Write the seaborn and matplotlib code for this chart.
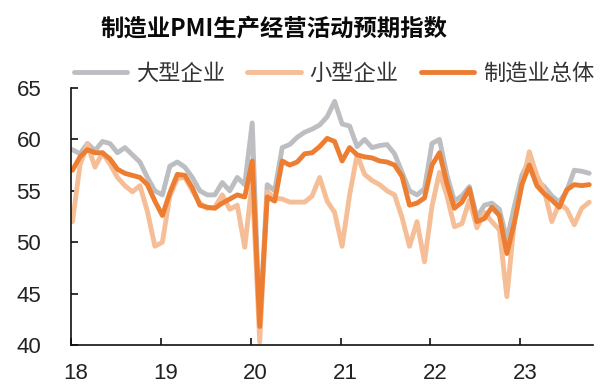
import numpy as np
import pandas as pd
import matplotlib
matplotlib.use("Agg")
import matplotlib.pyplot as plt
import seaborn as sns

# Monthly PMI production & business-activity expectation index, 2018-01 .. 2023-10
months = pd.period_range("2018-01", "2023-10", freq="M").astype(str).tolist()

large = [59.0, 58.6, 59.6, 58.9, 59.8, 59.6, 58.7, 59.2, 58.5, 57.8, 56.3, 55.0,
         54.6, 57.4, 57.8, 57.3, 56.3, 55.0, 54.6, 54.6, 55.8, 55.0, 56.3, 55.6,
         61.6, 41.5, 55.6, 55.0, 59.2, 59.5, 60.2, 60.7, 61.0, 61.4, 62.2, 63.7,
         61.5, 61.3, 59.3, 60.0, 59.2, 59.4, 59.5, 58.6, 56.8, 55.0, 54.6, 55.2,
         59.6, 60.0, 56.5, 54.0, 54.5, 55.4, 52.4, 53.6, 53.8, 53.2, 50.2, 53.5,
         56.5, 58.0, 56.0, 55.4, 54.5, 53.9, 55.0, 57.0, 56.9, 56.7]

small = [52.0, 57.5, 59.5, 57.3, 58.7, 57.6, 56.3, 55.5, 54.9, 55.5, 53.0, 49.6,
         50.0, 54.5, 56.2, 56.3, 55.0, 53.8, 53.3, 53.4, 54.6, 53.2, 53.6, 49.5,
         55.9, 40.3, 54.9, 54.3, 54.2, 53.9, 53.9, 53.9, 54.5, 56.3, 54.0, 52.9,
         49.6, 54.6, 58.5, 56.6, 56.0, 55.6, 55.0, 54.6, 52.4, 49.6, 52.0, 48.1,
         53.5, 56.8, 54.5, 51.5, 51.8, 54.1, 51.4, 52.9, 52.0, 51.2, 44.7, 52.0,
         55.5, 58.8, 56.5, 55.0, 52.0, 53.8, 53.2, 51.7, 53.3, 53.9]

total = [57.0, 58.3, 59.0, 58.7, 58.7, 58.1, 57.1, 56.7, 56.5, 56.3, 55.6, 54.0,
         52.6, 54.8, 56.6, 56.5, 55.3, 53.6, 53.4, 53.3, 53.8, 54.2, 54.6, 54.4,
         57.9, 41.8, 54.4, 54.0, 57.9, 57.5, 57.8, 58.6, 58.7, 59.3, 60.1, 59.8,
         57.9, 59.2, 58.5, 58.3, 58.2, 57.9, 57.8, 57.5, 56.4, 53.6, 53.8, 54.3,
         57.5, 58.7, 55.7, 53.3, 53.9, 55.2, 52.0, 52.3, 53.4, 52.6, 48.9, 51.9,
         55.6, 57.5, 55.5, 54.7, 54.1, 53.4, 55.1, 55.6, 55.5, 55.6]

series_names = ["大型企业", "小型企业", "制造业总体"]
series_colors = ["#BDBEC2", "#F6BE97", "#ED7D31"]
year_labels = ["18", "19", "20", "21", "22", "23"]
y_ticks = [40, 45, 50, 55, 60, 65]
title = "制造业PMI生产经营活动预期指数"

idx = np.arange(len(months))
df = pd.concat([
    pd.DataFrame({"idx": idx, "value": vals, "series": name})
    for name, vals in zip(series_names, [large, small, total])
], ignore_index=True)

sns.set_style("ticks")
plt.rcParams["font.family"] = ["Noto Sans CJK SC", "DejaVu Sans"]

fig = plt.figure(figsize=(6.02, 3.85), dpi=100)
ax = fig.add_axes([71 / 602, 1 - 345 / 385, 522 / 602, (345 - 88) / 385])

sns.lineplot(data=df, x="idx", y="value", hue="series", hue_order=series_names,
             palette=series_colors, linewidth=3.5, ax=ax, legend=False)

ax.set_xlim(-0.1, 69.5)
ax.set_ylim(40, 65)
ax.set_xlabel("")
ax.set_ylabel("")

for s in ["top", "right"]:
    ax.spines[s].set_visible(False)
for s in ["left", "bottom"]:
    ax.spines[s].set_color("#111111")
    ax.spines[s].set_linewidth(1.2)

# year boundaries carry tick marks, labels sit just after them
year_starts = [12 * k - 0.2 for k in range(len(year_labels))]
label_pos = [12 * k + 0.45 for k in range(len(year_labels))]
ax.set_xticks(year_starts)
ax.set_xticklabels([])
ax.set_xticks(label_pos, minor=True)
ax.set_xticklabels(year_labels, minor=True)
ax.tick_params(axis="x", which="major", direction="in", length=5, width=1.2, color="#111111")
ax.tick_params(axis="x", which="minor", length=0, pad=13, labelsize=16, labelcolor="#222222")

ax.set_yticks(y_ticks)
ax.set_yticklabels([str(v) for v in y_ticks])
ax.tick_params(axis="y", direction="in", length=5, width=1.2, color="#111111",
               pad=21.5, labelsize=16, labelcolor="#222222")

for lab in ax.get_xticklabels(minor=True) + ax.get_yticklabels():
    lab.set_fontfamily("Liberation Sans")

handles = ax.get_lines()[:3]
leg = fig.legend(handles, series_names, loc="center", ncol=3, frameon=False,
                 bbox_to_anchor=(334 / 602, 1 - 73 / 385), bbox_transform=fig.transFigure,
                 handlelength=2.4, handletextpad=0.4, columnspacing=1.0,
                 borderpad=0, borderaxespad=0, prop={"size": 16})
for t in leg.get_texts():
    t.set_color("#333333")
for h in leg.get_lines():
    h.set_linewidth(3.5)

fig.text(274 / 602, 1 - 29 / 385, title, ha="center", va="center",
         fontsize=16.8, fontweight="heavy", color="#0A0A0A",
         family=["Noto Sans CJK SC", "DejaVu Sans"])

fig.savefig("out.png", dpi=100, facecolor="white")
